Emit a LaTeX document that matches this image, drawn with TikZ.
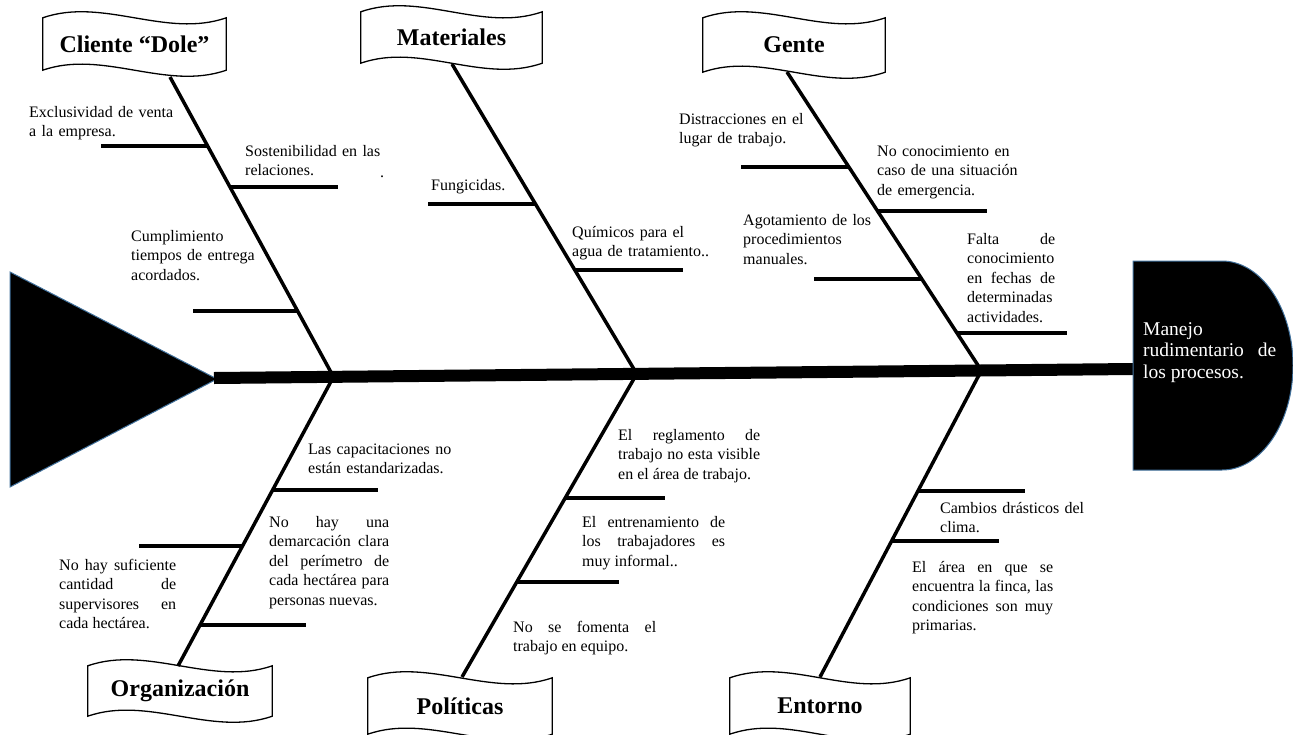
\documentclass[tikz,border=0pt]{standalone}
\usepackage{fontspec}
\setmainfont{Liberation Serif}
\usetikzlibrary{calc}
\definecolor{edgeblue}{RGB}{65,113,156}
\tolerance=10000
\hbadness=10000
\hyphenpenalty=10000

\begin{document}
\begin{tikzpicture}[
    x=1pt, y=-1pt,
    spine/.style={draw, line width=12pt},
    bone/.style={draw, line width=3.5pt},
    rib/.style={draw, line width=4pt},
    banner/.style={inner sep=0pt, minimum width=#1, minimum height=52pt, font={\fontsize{24}{28}\selectfont\bfseries}},
    wave/.style={draw, line width=1.3pt},
    cause/.style={anchor=base west, inner sep=0pt, text width=#1, align=left, font={\fontsize{16}{19.6}\selectfont}},
    justified/.style={cause=#1, align=justify}
]
\useasboundingbox (0,0) rectangle (1293,734);

% Define skeleton points
\coordinate (tail) at (214,378);
\coordinate (head) at (1133,369);
\coordinate (s1) at ($(tail)!0.13!(head)$);
\coordinate (s2) at ($(tail)!0.46!(head)$);
\coordinate (s3) at ($(tail)!0.835!(head)$);
\coordinate (cb) at (170,77);
\coordinate (mb) at (452,64);
\coordinate (gb) at (787,72);
\coordinate (ob) at (178,666);
\coordinate (pb) at (462,677);
\coordinate (eb) at (820,677);

% Category banners
\node[banner=183pt] (cli) at (134.5,44) {Cliente “Dole”};
\node[banner=181pt, minimum height=51pt] (mat) at (451.5,37.5) {Materiales};
\node[banner=182pt, minimum height=54pt] (gen) at (794,45) {Gente};
\node[banner=184pt, minimum height=50pt] (org) at (180,691) {Organización};
\node[banner=184pt, minimum height=56pt] (pol) at (460,706) {Políticas};
\node[banner=180pt, minimum height=56pt] (ent) at (820,706) {Entorno};
\foreach \b in {cli,mat,gen,org,pol,ent}
  \draw[wave] (\b.north west) .. controls +(60,-21) and +(-60,21) .. (\b.north east)
    -- (\b.south east) .. controls +(-60,21) and +(60,-21) .. (\b.south west) -- cycle;

% Main bones
\draw[bone] (cb) -- (s1);
\draw[bone] (mb) -- (s2);
\draw[bone] (gb) -- (s3);
\draw[bone] (s1) -- (ob);
\draw[bone] (s2) -- (pb);
\draw[bone] (s3) -- (eb);

% Tail, spine and head
\filldraw[fill=black, draw=edgeblue, line width=1pt] (10,272) -- (217,379) -- (10,487) -- cycle;
\draw[spine] (tail) -- (head);
\filldraw[fill=black, draw=edgeblue, line width=1pt] (1133,261) -- (1222,261)
  .. controls (1261,261) and (1293,308) .. (1293,365.5)
  .. controls (1293,423) and (1261,470) .. (1222,470) -- (1133,470) -- cycle;
\node[justified=133pt, text=white, font={\fontsize{19.5}{21.5}\selectfont}] (problema) at (1143,335) {Manejo\linebreak rudimentario de\linebreak los procesos.};

% Small bones
\draw[rib] ($(cb)!0.231!(s1)$) -- ++(-107,0);
\draw[rib] ($(cb)!0.368!(s1)$) -- ++(108,0);
\draw[rib] ($(cb)!0.779!(s1)$) -- ++(-104,0);
\draw[rib] ($(mb)!0.453!(s2)$) -- ++(-108,0);
\draw[rib] ($(mb)!0.664!(s2)$) -- ++(108,0);
\draw[rib] ($(gb)!0.318!(s3)$) -- ++(-108,0);
\draw[rib] ($(gb)!0.466!(s3)$) -- ++(109,0);
\draw[rib] ($(gb)!0.693!(s3)$) -- ++(-108,0);
\draw[rib] ($(gb)!0.874!(s3)$) -- ++(110,0);
\draw[rib] ($(s1)!0.391!(ob)$) -- ++(105,0);
\draw[rib] ($(s1)!0.585!(ob)$) -- ++(-104,0);
\draw[rib] ($(s1)!0.858!(ob)$) -- ++(106,0);
\draw[rib] ($(s2)!0.409!(pb)$) -- ++(100,0);
\draw[rib] ($(s2)!0.687!(pb)$) -- ++(102,0);
\draw[rib] ($(s3)!0.393!(eb)$) -- ++(107,0);
\draw[rib] ($(s3)!0.556!(eb)$) -- ++(107,0);

% Causes
\node[cause=200pt] (exclusividad) at (29,117) {Exclusividad de venta\\a la empresa.};
\node[cause=200pt] (sostenibilidad) at (245,156) {Sostenibilidad en las\\relaciones.};
\node[cause=20pt] (punto) at (380,177) {.};
\node[cause=200pt] (cumplimiento) at (131,241) {Cumplimiento\\tiempos de entrega\\acordados.};
\node[cause=150pt] (fungicidas) at (431,190) {Fungicidas.};
\node[cause=200pt] (quimicos) at (572,237) {Químicos para el\\agua de tratamiento..};
\node[cause=200pt] (distracciones) at (679,124) {Distracciones en el\\lugar de trabajo.};
\node[cause=200pt] (emergencia) at (877,156) {No conocimiento en\\caso de una situación\\de emergencia.};
\node[cause=200pt] (agotamiento) at (743,225) {Agotamiento de los\\procedimientos\\manuales.};
\node[justified=88pt] (fechas) at (967,244) {Falta de\linebreak conocimiento\linebreak en fechas de\linebreak determinadas\linebreak actividades.};
\node[cause=200pt] (capacitaciones) at (308,454) {Las capacitaciones no\\están estandarizadas.};
\node[justified=120pt] (demarcacion) at (269,527) {No hay una\linebreak demarcación clara\linebreak del perímetro de\linebreak cada hectárea para\linebreak personas nuevas.};
\node[justified=117pt] (supervisores) at (59,570) {No hay suficiente\linebreak cantidad de\linebreak supervisores en\linebreak cada hectárea.};
\node[justified=142pt] (reglamento) at (618,440) {El reglamento de\linebreak trabajo no esta visible\linebreak en el área de trabajo.};
\node[justified=143pt] (entrenamiento) at (582,527) {El entrenamiento de\linebreak los trabajadores es\linebreak muy informal..};
\node[justified=143pt] (equipo) at (513,632) {No se fomenta el\linebreak trabajo en equipo.};
\node[cause=200pt] (clima) at (940,513) {Cambios drásticos del\\clima.};
\node[justified=141pt] (finca) at (912,572) {El área en que se\linebreak encuentra la finca, las\linebreak condiciones son muy\linebreak primarias.};

\end{tikzpicture}
\end{document}
